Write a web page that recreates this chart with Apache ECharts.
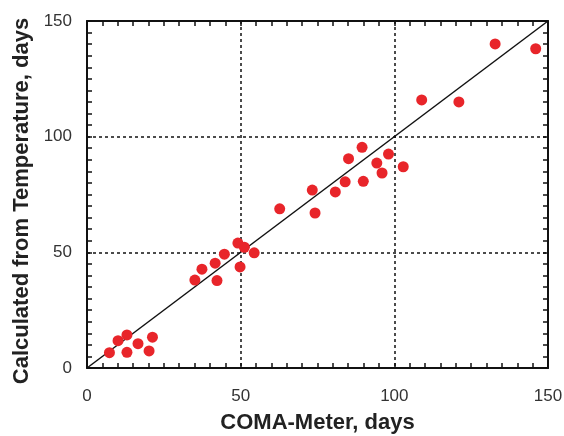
<!DOCTYPE html>
<html>
<head>
<meta charset="utf-8">
<script src="https://cdn.jsdelivr.net/npm/echarts@6/dist/echarts.min.js"></script>
<style>
  html, body { margin: 0; padding: 0; background: #fff; }
  #main { width: 564px; height: 436px; }
</style>
</head>
<body>
<div id="main"></div>
<script>
  // COMA-Meter days vs days calculated from temperature
  var comaDays = [7.3, 10.1, 13.0, 13.0, 16.6, 20.2, 21.3,
    35.1, 37.4, 41.7, 42.3, 44.7, 49.1, 51.2, 49.8, 54.4,
    62.7, 74.2, 73.3, 80.8, 84.0, 85.1, 89.5, 89.9, 94.3, 96.0, 98.1, 102.9,
    108.9, 121.0, 132.8, 146.0]
  var tempDays = [6.6, 11.8, 14.3, 6.8, 10.5, 7.4, 13.3,
    38.0, 42.7, 45.3, 37.8, 49.2, 54.0, 52.2, 43.7, 49.8,
    68.8, 67.0, 76.9, 76.1, 80.5, 90.5, 95.4, 80.7, 88.6, 84.3, 92.5, 87.0,
    115.9, 115.0, 140.1, 138.0]
  // 1:1 line ends
  var lineEnds = [0, 150]
  var tickLabels = ['0', '50', '100', '150']

  var points = []
  for (var i = 0; i < comaDays.length; i++) {
    points.push([comaDays[i], tempDays[i]])
  }

  var chart = echarts.init(document.getElementById('main'))
  var font = 'Liberation Sans, Arial, sans-serif'

  function axis(pos, labels) {
    return {
      type: 'value',
      position: pos,
      min: 0,
      max: 150,
      interval: 50,
      axisLine: { show: true, onZero: false, lineStyle: { color: '#111', width: 2 } },
      axisTick: { show: true, inside: true, length: 5, lineStyle: { color: '#111', width: 1.5 } },
      minorTick: { show: true, splitNumber: 10, length: 5, lineStyle: { color: '#111', width: 1.5 } },
      axisLabel: {
        show: labels,
        color: '#333',
        fontSize: 17,
        fontFamily: font,
        margin: 20,
        formatter: function (v) { return tickLabels[v / 50] }
      },
      splitLine: {
        show: labels,
        lineStyle: { color: '#111', type: [3, 3], width: 1.5 }
      }
    }
  }

  var xMain = axis('bottom', true)
  xMain.name = 'COMA-Meter, days'
  xMain.nameLocation = 'middle'
  xMain.nameGap = 44
  xMain.nameTextStyle = { fontSize: 22, fontWeight: 'bold', color: '#222', fontFamily: font }

  var yMain = axis('left', true)
  yMain.name = 'Calculated from Temperature, days'
  yMain.nameLocation = 'middle'
  yMain.nameGap = 54
  yMain.nameTextStyle = { fontSize: 22, fontWeight: 'bold', color: '#222', fontFamily: font, padding: [0, 13, 0, 0] }
  yMain.axisLabel.margin = 15

  chart.setOption({
    animation: false,
    grid: { left: 87, right: 16, top: 21, bottom: 68, containLabel: false, outerBoundsMode: 'none' },
    xAxis: [xMain, axis('top', false)],
    yAxis: [yMain, axis('right', false)],
    series: [{
      name: 'fit',
      type: 'line',
      data: [[lineEnds[0], lineEnds[0]], [lineEnds[1], lineEnds[1]]],
      showSymbol: false,
      lineStyle: { color: '#111', width: 1.5 },
      z: 3
    }, {
      name: 'points',
      type: 'scatter',
      data: points,
      symbolSize: 11,
      itemStyle: { color: '#e8252a', opacity: 1 },
      z: 4
    }]
  })
</script>
</body>
</html>
